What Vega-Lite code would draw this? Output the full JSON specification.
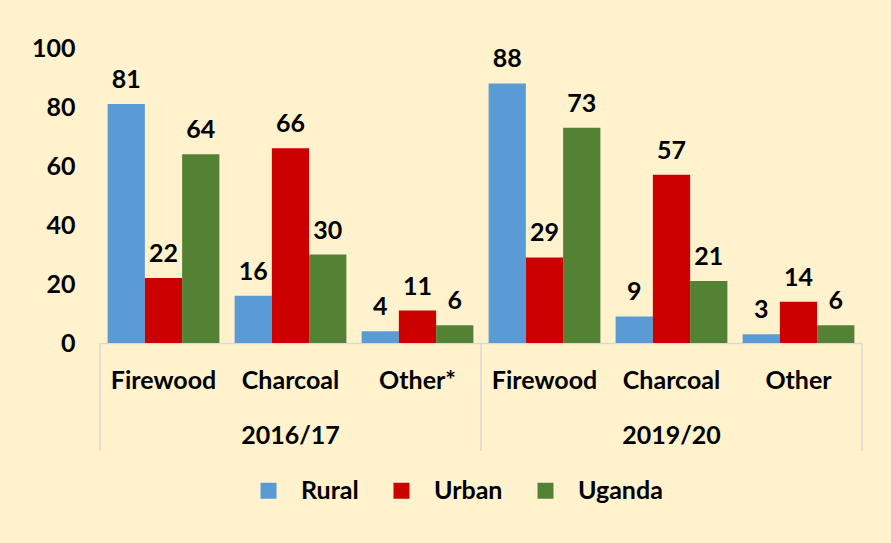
{
  "$schema": "https://vega.github.io/schema/vega-lite/v6.json",
  "width": 762,
  "height": 295,
  "autosize": {"type": "none"},
  "padding": {"left": 100, "top": 48, "right": 29, "bottom": 200},
  "background": "#FFF2CC",
  "config": {"font": "Lato", "view": {"stroke": null}},
  "datasets": {
    "bars": [
      {"slot": "2016/17|Firewood", "group": "Rural", "value": 81},
      {"slot": "2016/17|Firewood", "group": "Urban", "value": 22},
      {"slot": "2016/17|Firewood", "group": "Uganda", "value": 64},
      {"slot": "2016/17|Charcoal", "group": "Rural", "value": 16},
      {"slot": "2016/17|Charcoal", "group": "Urban", "value": 66},
      {"slot": "2016/17|Charcoal", "group": "Uganda", "value": 30},
      {"slot": "2016/17|Other*", "group": "Rural", "value": 4},
      {"slot": "2016/17|Other*", "group": "Urban", "value": 11},
      {"slot": "2016/17|Other*", "group": "Uganda", "value": 6},
      {"slot": "2019/20|Firewood", "group": "Rural", "value": 88},
      {"slot": "2019/20|Firewood", "group": "Urban", "value": 29},
      {"slot": "2019/20|Firewood", "group": "Uganda", "value": 73},
      {"slot": "2019/20|Charcoal", "group": "Rural", "value": 9},
      {"slot": "2019/20|Charcoal", "group": "Urban", "value": 57},
      {"slot": "2019/20|Charcoal", "group": "Uganda", "value": 21},
      {"slot": "2019/20|Other", "group": "Rural", "value": 3},
      {"slot": "2019/20|Other", "group": "Urban", "value": 14},
      {"slot": "2019/20|Other", "group": "Uganda", "value": 6}
    ],
    "years": [
      {"slot": "2016/17|Charcoal", "year": "2016/17", "pos": -31.5},
      {"slot": "2019/20|Charcoal", "year": "2019/20", "pos": -31.5}
    ],
    "seps": [
      {"slot": "2016/17|Firewood", "top": 0, "bottom": -36.6},
      {"slot": "2019/20|Firewood", "top": 0, "bottom": -36.6}
    ],
    "sepEnd": [
      {"slot": "2019/20|Other", "top": 0, "bottom": -36.6}
    ]
  },
  "layer": [
    {
      "data": {"name": "bars"},
      "mark": {"type": "bar"},
      "encoding": {
        "x": {
          "field": "slot", "type": "nominal", "sort": null,
          "scale": {"paddingInner": 0.12, "paddingOuter": 0.06},
          "axis": {
            "title": null, "labelAngle": 0, "ticks": false,
            "domainColor": "#D9D9D9", "domainWidth": 1.5,
            "labelExpr": "split(datum.label, '|')[1]",
            "labelFontSize": 25, "labelFontWeight": "bold", "labelColor": "#000000",
            "labelPadding": 25
          }
        },
        "xOffset": {"field": "group", "type": "nominal", "sort": ["Rural", "Urban", "Uganda"], "scale": {"paddingInner": 0, "paddingOuter": 0}},
        "y": {
          "field": "value", "type": "quantitative",
          "scale": {"domain": [0, 100], "nice": false},
          "axis": {
            "title": null, "values": [0, 20, 40, 60, 80, 100], "grid": false,
            "domain": false, "ticks": false, "labelFontSize": 25, "labelFontWeight": "bold",
            "labelColor": "#000000", "labelPadding": 25
          }
        },
        "color": {
          "field": "group", "type": "nominal",
          "sort": ["Rural", "Urban", "Uganda"],
          "scale": {"domain": ["Rural", "Urban", "Uganda"], "range": ["#5B9BD5", "#CC0000", "#548235"]},
          "legend": {
            "title": null, "orient": "none", "direction": "horizontal",
            "legendX": 156, "legendY": 430,
            "symbolType": "square", "symbolSize": 256, "symbolStrokeWidth": 0,
            "labelFontSize": 25, "labelFontWeight": "bold", "labelColor": "#000000",
            "labelOffset": 20, "columnPadding": 30
          }
        }
      }
    },
    {
      "data": {"name": "bars"},
      "mark": {"type": "text", "dy": -24, "fontSize": 25, "fontWeight": "bold", "color": "#000000"},
      "encoding": {
        "x": {"field": "slot", "type": "nominal", "sort": null},
        "xOffset": {"field": "group", "type": "nominal", "sort": ["Rural", "Urban", "Uganda"]},
        "y": {"field": "value", "type": "quantitative"},
        "text": {"field": "value", "type": "quantitative"}
      }
    },
    {
      "data": {"name": "years"},
      "mark": {"type": "text", "fontSize": 25, "fontWeight": "bold", "color": "#000000", "baseline": "middle"},
      "encoding": {
        "x": {"field": "slot", "type": "nominal", "sort": null},
        "y": {"field": "pos", "type": "quantitative"},
        "text": {"field": "year", "type": "nominal"}
      }
    },
    {
      "data": {"name": "seps"},
      "mark": {"type": "rule", "color": "#D9D9D9", "strokeWidth": 1.5},
      "encoding": {
        "x": {"field": "slot", "type": "nominal", "sort": null, "bandPosition": -0.068},
        "y": {"field": "top", "type": "quantitative"},
        "y2": {"field": "bottom"}
      }
    },
    {
      "data": {"name": "sepEnd"},
      "mark": {"type": "rule", "color": "#D9D9D9", "strokeWidth": 1.5},
      "encoding": {
        "x": {"field": "slot", "type": "nominal", "sort": null, "bandPosition": 1.068},
        "y": {"field": "top", "type": "quantitative"},
        "y2": {"field": "bottom"}
      }
    }
  ]
}
